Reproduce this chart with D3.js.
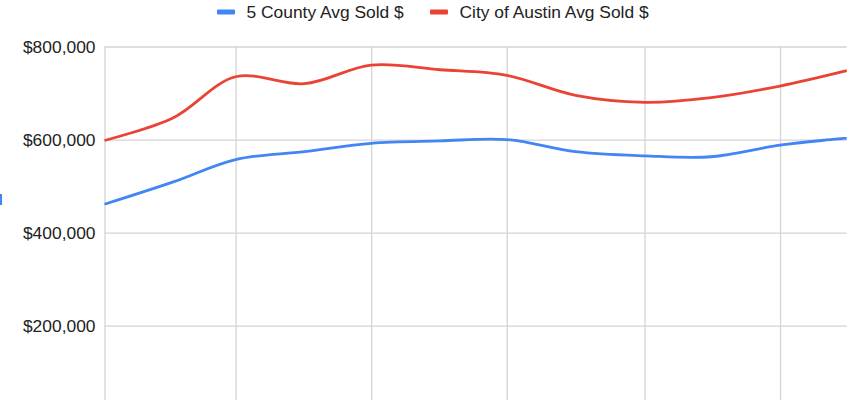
<!DOCTYPE html>
<html lang="en">
<head>
  <meta charset="UTF-8">
  <title>Avg Sold $</title>
  <script src="https://d3js.org/d3.v7.min.js"></script>
  <style>
    body { margin: 0; background: #fff; }
    svg { display: block; font-family: Arial, "Liberation Sans", sans-serif; }
    .grid line { stroke: #d4d4d4; stroke-width: 1.3px; }
    .grid path { display: none; }
    .ylab text { fill: #222; font-size: 17.4px; }
    .legend text { fill: #222; font-size: 17.4px; }
  </style>
</head>
<body>
  <div id="chart"></div>
  <script>
    // monthly data points (first of each month)
    var months = ["2021-01-01", "2021-02-01", "2021-03-01", "2021-04-01", "2021-05-01", "2021-06-01",
                  "2021-07-01", "2021-08-01", "2021-09-01", "2021-10-01", "2021-11-01", "2021-12-01"];
    var countyAvg = [461000, 509000, 557000, 574000, 592000, 597000, 600000, 574000, 565000, 563000, 588000, 603000];
    var austinAvg = [598000, 647000, 735000, 720000, 760000, 750000, 738000, 695000, 680000, 690000, 715000, 748000];
    // $0 sits below the visible area, so only these are labelled
    var yTicks = [200000, 400000, 600000, 800000];
    var seriesNames = ["5 County Avg Sold $", "City of Austin Avg Sold $"];
    var seriesColors = ["#4285f4", "#ea4335"];

    var W = 868, H = 400;
    var parse = d3.timeParse("%Y-%m-%d");
    var dates = months.map(parse);

    var svg = d3.select("#chart").append("svg")
      .attr("width", W)
      .attr("height", H);

    var x = d3.scaleTime()
      .domain(d3.extent(dates))
      .range([104.5, 846.7]);

    var y = d3.scaleLinear()
      .domain([0, 800000])
      .range([418.7, 46.5]);

    // horizontal gridlines + labels
    var yAxis = svg.append("g")
      .attr("class", "grid ylab")
      .attr("transform", "translate(" + x.range()[0] + ",0)")
      .call(d3.axisLeft(y)
        .tickValues(yTicks)
        .tickSize(-(x.range()[1] - x.range()[0]))
        .tickPadding(9)
        .tickFormat(function (d) { return "$" + d3.format(",")(d); }));
    yAxis.selectAll("text").attr("dy", "0.36em");

    // vertical gridlines every 2 months
    svg.append("g")
      .attr("class", "grid")
      .attr("transform", "translate(0," + y(0) + ")")
      .call(d3.axisBottom(x)
        .ticks(d3.timeMonth.every(2))
        .tickSize(-(y(0) - y(800000)))
        .tickFormat(""));

    var line = d3.line()
      .x(function (d, i) { return x(dates[i]); })
      .y(function (d) { return y(d); })
      .curve(d3.curveCatmullRom.alpha(0.5));

    [countyAvg, austinAvg].forEach(function (vals, k) {
      svg.append("path")
        .datum(vals)
        .attr("d", line)
        .attr("fill", "none")
        .attr("stroke", seriesColors[k])
        .attr("stroke-width", 2.8)
        .attr("stroke-linejoin", "round");
    });

    // legend
    var legend = svg.append("g").attr("class", "legend");
    var legX = [217, 430];
    seriesNames.forEach(function (name, k) {
      legend.append("rect")
        .attr("x", legX[k])
        .attr("y", 9.5)
        .attr("width", 18)
        .attr("height", 5)
        .attr("rx", 1)
        .attr("fill", seriesColors[k]);
      legend.append("text")
        .attr("x", legX[k] + 29.5)
        .attr("y", 17.5)
        .text(name);
    });

    // small cut-off mark at the left edge
    svg.append("rect")
      .attr("x", 0)
      .attr("y", 194)
      .attr("width", 2)
      .attr("height", 11)
      .attr("fill", seriesColors[0]);
  </script>
</body>
</html>
